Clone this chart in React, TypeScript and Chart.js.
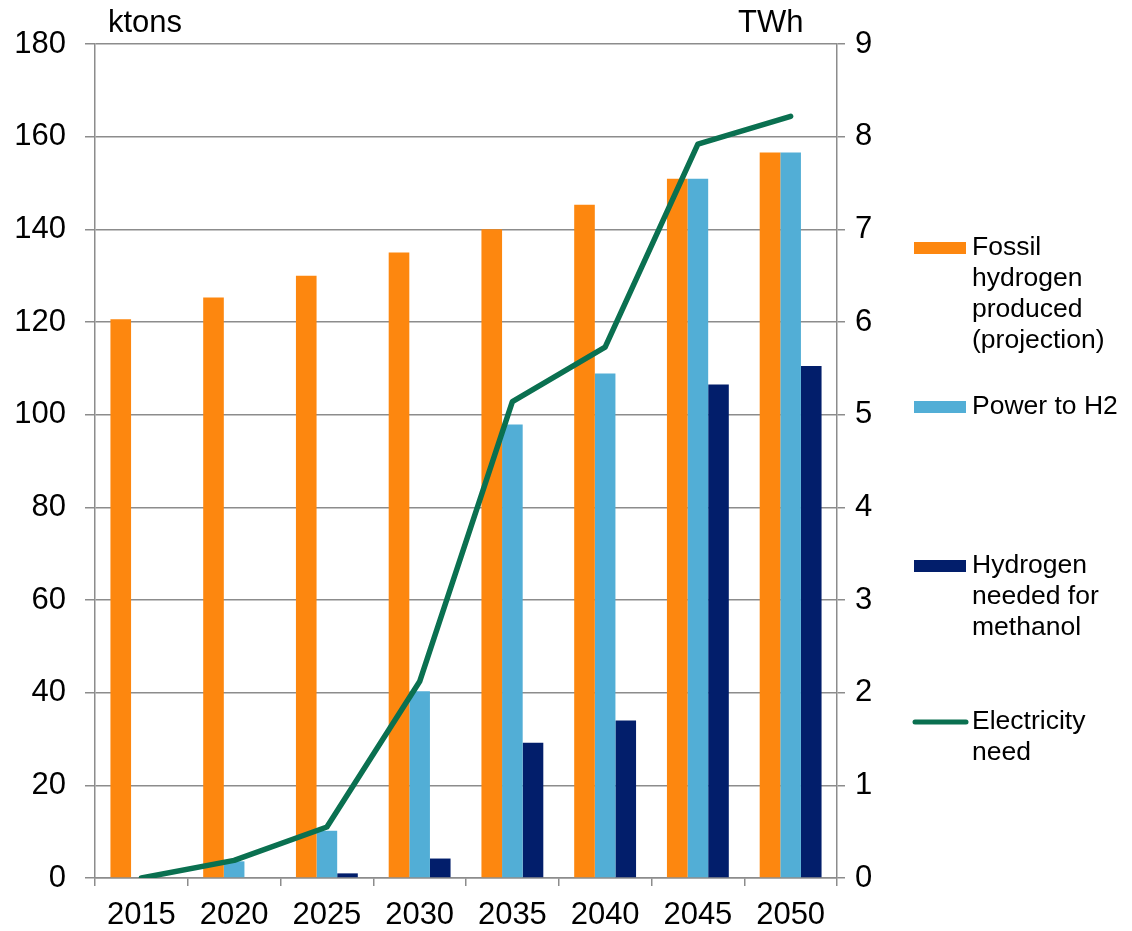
import React, { useEffect, useRef } from 'react';
import { Chart, registerables } from 'chart.js';

Chart.register(...registerables);

const categories = ['2015', '2020', '2025', '2030', '2035', '2040', '2045', '2050'];
const fossilHydrogen = [120.6, 125.3, 130.0, 135.0, 140.0, 145.3, 150.9, 156.6];
const powerToH2 = [null, 3.6, 10.2, 40.3, 97.9, 108.9, 150.9, 156.6];
const hydrogenMethanol = [null, null, 1.0, 4.2, 29.2, 34.0, 106.5, 110.5];
const electricityNeed = [0, 0.19, 0.55, 2.12, 5.14, 5.73, 7.92, 8.22];

const leftAxisTitle = 'ktons';
const rightAxisTitle = 'TWh';
const seriesLabels = [
  ['Fossil', 'hydrogen', 'produced', '(projection)'],
  ['Power to H2'],
  ['Hydrogen', 'needed for', 'methanol'],
  ['Electricity', 'need'],
];

const COLORS = {
  orange: '#FD870F',
  light: '#52AED6',
  navy: '#021E6B',
  green: '#0A7050',
  grid: '#8C8C8C',
};

const FONT = '"Liberation Sans", Arial, sans-serif';

const overlayPlugin = {
  id: 'overlay',
  afterDraw(chart: any) {
    const ctx = chart.ctx;
    ctx.save();
    ctx.fillStyle = '#000';
    ctx.font = `31px ${FONT}`;
    ctx.textBaseline = 'alphabetic';
    ctx.textAlign = 'left';
    ctx.fillText(leftAxisTitle, 108, 32);
    ctx.fillText(rightAxisTitle, 738, 32);

    // legend
    const legendY = [248, 407, 566, 722];
    const swatchColors = [COLORS.orange, COLORS.light, COLORS.navy, COLORS.green];
    ctx.font = `26.5px ${FONT}`;
    ctx.textBaseline = 'middle';
    seriesLabels.forEach((lines, i) => {
      const y = legendY[i];
      if (i === 3) {
        ctx.strokeStyle = swatchColors[i];
        ctx.lineWidth = 5;
        ctx.lineCap = 'round';
        ctx.beginPath();
        ctx.moveTo(915, y);
        ctx.lineTo(966, y);
        ctx.stroke();
      } else {
        ctx.fillStyle = swatchColors[i];
        ctx.fillRect(914, y - 6, 52, 12);
      }
      ctx.fillStyle = '#000';
      lines.forEach((t, j) => {
        ctx.fillText(t, 972, y + j * 31);
      });
    });
    ctx.restore();
  },
};

export default function App() {
  const canvasRef = useRef<HTMLCanvasElement | null>(null);

  useEffect(() => {
    document.body.style.margin = '0';
    const canvas = canvasRef.current;
    if (!canvas) return;
    Chart.defaults.font.family = FONT;
    Chart.defaults.color = '#000';

    const chart = new Chart(canvas, {
      type: 'bar',
      data: {
        labels: categories,
        datasets: [
          {
            type: 'line',
            label: seriesLabels[3].join(' '),
            data: electricityNeed,
            yAxisID: 'y2',
            borderColor: COLORS.green,
            borderWidth: 5.5,
            borderCapStyle: 'round',
            borderJoinStyle: 'round',
            pointRadius: 0,
            tension: 0,
            fill: false,
            order: 0,
          } as any,
          {
            label: seriesLabels[0].join(' '),
            data: fossilHydrogen,
            backgroundColor: COLORS.orange,
            yAxisID: 'y',
            order: 1,
          },
          {
            label: seriesLabels[1].join(' '),
            data: powerToH2,
            backgroundColor: COLORS.light,
            yAxisID: 'y',
            order: 1,
          },
          {
            label: seriesLabels[2].join(' '),
            data: hydrogenMethanol,
            backgroundColor: COLORS.navy,
            yAxisID: 'y',
            order: 1,
          },
        ],
      },
      options: {
        responsive: false,
        animation: false,
        maintainAspectRatio: false,
        datasets: {
          bar: { categoryPercentage: 0.667, barPercentage: 1.0 },
        },
        layout: { padding: { top: 44, bottom: 0, left: 0, right: 0 } },
        plugins: {
          legend: { display: false },
          tooltip: { enabled: false },
        },
        scales: {
          x: {
            offset: true,
            grid: {
              offset: true,
              drawOnChartArea: false,
              drawTicks: true,
              tickLength: 8,
              color: COLORS.grid,
              lineWidth: 1.5,
            },
            border: { display: true, color: COLORS.grid, width: 1.5 },
            ticks: { font: { size: 31 }, padding: 11, color: '#000', maxRotation: 0 },
            afterFit: (s: any) => { s.height = 53; },
          },
          y: {
            position: 'left',
            min: 0,
            max: 180,
            ticks: { stepSize: 20, font: { size: 31 }, padding: 19, color: '#000' },
            grid: { color: COLORS.grid, lineWidth: 1.5, tickLength: 10 },
            border: { display: true, color: COLORS.grid, width: 1.5 },
            afterFit: (s: any) => { s.width = 95; },
          },
          y2: {
            position: 'right',
            min: 0,
            max: 9,
            ticks: { stepSize: 1, font: { size: 31 }, padding: 10, color: '#000' },
            grid: { drawOnChartArea: false, color: COLORS.grid, lineWidth: 1.5, tickLength: 8 },
            border: { display: true, color: COLORS.grid, width: 1.5 },
            afterFit: (s: any) => { s.width = 295; },
          },
        },
      },
      plugins: [overlayPlugin],
    });
    return () => chart.destroy();
  }, []);

  return (
    <div style={{ width: 1132, height: 931, background: '#fff' }}>
      <canvas ref={canvasRef} width={1132} height={931} style={{ display: 'block' }} />
    </div>
  );
}
